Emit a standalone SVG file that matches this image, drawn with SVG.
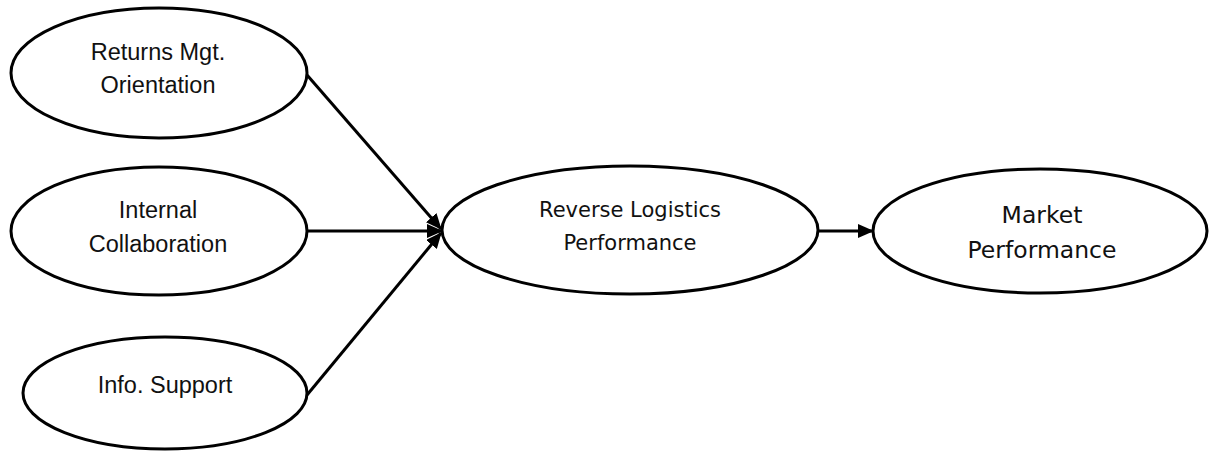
<svg xmlns="http://www.w3.org/2000/svg" width="1210" height="451" viewBox="0 0 1210 451">
  <style>
    .node ellipse { fill: #ffffff; stroke: #000000; stroke-width: 3; }
    .arial { font-family: "Liberation Sans", Arial, sans-serif; font-size: 23.5px; fill: #111111; text-anchor: middle; }
    .tahoma { font-family: "DejaVu Sans", Verdana, sans-serif; fill: #111111; text-anchor: middle; }
    .edge { stroke: #000000; stroke-width: 3; fill: none; marker-end: url(#arrow); }
  </style>
  <defs>
    <marker id="arrow" markerUnits="userSpaceOnUse" markerWidth="16" markerHeight="14" refX="15" refY="7" orient="auto">
      <path d="M0,0 L16,7 L0,14 Z" fill="#000000"/>
    </marker>
  </defs>
  <rect width="1210" height="451" fill="#ffffff"/>

  <!-- connectors -->
  <g id="connectors">
    <line class="edge" x1="307" y1="75" x2="441" y2="229"/>
    <line class="edge" x1="307" y1="231" x2="442" y2="231"/>
    <line class="edge" x1="307" y1="395" x2="441" y2="233"/>
    <line class="edge" x1="818" y1="231" x2="873" y2="231"/>
  </g>

  <g id="returns-mgt" class="node">
    <ellipse cx="159" cy="73" rx="148" ry="65"/>
    <text class="arial" x="158" y="60">Returns Mgt.</text>
    <text class="arial" x="158" y="93">Orientation</text>
  </g>

  <g id="internal-collaboration" class="node">
    <ellipse cx="159" cy="231" rx="148" ry="64"/>
    <text class="arial" x="158" y="218">Internal</text>
    <text class="arial" x="158" y="252">Collaboration</text>
  </g>

  <g id="info-support" class="node">
    <ellipse cx="165" cy="393" rx="142" ry="56"/>
    <text class="arial" x="165" y="393">Info. Support</text>
  </g>

  <g id="reverse-logistics" class="node">
    <ellipse cx="630" cy="230" rx="188" ry="64"/>
    <text class="tahoma" x="630" y="217" font-size="21">Reverse Logistics</text>
    <text class="tahoma" x="630" y="250" font-size="21">Performance</text>
  </g>

  <g id="market-performance" class="node">
    <ellipse cx="1040" cy="231" rx="167" ry="62"/>
    <text class="tahoma" x="1042" y="223" font-size="23.5">Market</text>
    <text class="tahoma" x="1042" y="258" font-size="23.5">Performance</text>
  </g>
</svg>
